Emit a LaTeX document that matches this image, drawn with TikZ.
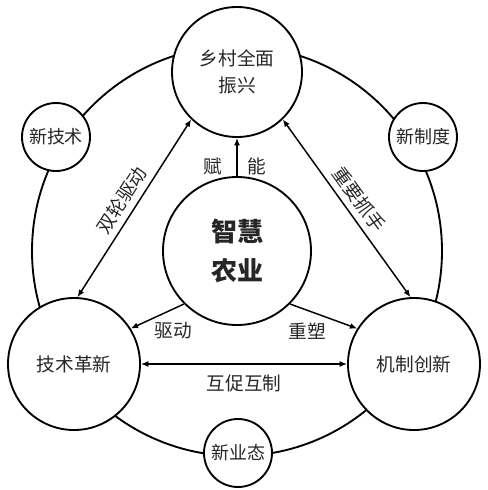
\documentclass[tikz,border=0pt]{standalone}
\usepackage{fontspec}
\setmainfont{Noto Sans CJK SC}
\usetikzlibrary{positioning,arrows.meta}
\tikzset{
	>={Latex[length=5.5pt,width=4.5pt]},
	ring/.style={circle, draw, line width=1.4pt, fill=white, inner sep=0pt, align=center, text=black!85},
	bigring/.style={ring, minimum size=99pt, font=\fontsize{14}{20}\selectfont},
	smallring/.style={ring, minimum size=51pt, font=\fontsize{13.5}{16}\selectfont},
	link/.style={line width=1.1pt},
	lbl/.style={font=\fontsize{14}{16}\selectfont, text=black!85}
}

\begin{document}
\begin{tikzpicture}[x=0.75pt,y=-0.75pt]
	\useasboundingbox (0,0) rectangle (487,490);
	\draw[line width=1.4pt] (237,251) circle[radius=153.75pt];
	\node[bigring, minimum size=111pt, font=\fontsize{19.5}{29}\selectfont\bfseries] (zhny) at (237,251) {智慧\\农业};
	\node[bigring, minimum size=97.5pt] (xczx) at (237,72) {乡村全面\\振兴};
	\node[bigring] (jsgx) at (74,364) {技术革新};
	\node[bigring] (jzcx) at (414,364) {机制创新};
	\node[smallring] (xjs) at (56,137) {新技术};
	\node[smallring] (xzd) at (423,137) {新制度};
	\node[smallring] (xyt) at (238,453) {新业态};
	\draw[link,->] (zhny.north) -- node[lbl,pos=.25,left=7pt]{赋} node[lbl,pos=.25,right=4pt]{能} (xczx.south);
	\draw[link,<->] (jsgx.87) -- node[lbl,sloped,above=1pt]{双轮驱动} (xczx.226);
	\draw[link,<->] (xczx.314) -- node[lbl,sloped,above=1pt]{重要抓手} (jzcx.93);
	\draw[link,->] (zhny.225) -- (jsgx.32);
	\draw[link,->] (zhny.-45) -- (jzcx.148);
	\draw[link,<->] (jsgx.east) -- node[lbl,below=4pt]{互促互制} (jzcx.west);
	\node[lbl] (qd) at (173,331) {驱动};
	\node[lbl] (cs) at (307,331) {重塑};
\end{tikzpicture}
\end{document}
